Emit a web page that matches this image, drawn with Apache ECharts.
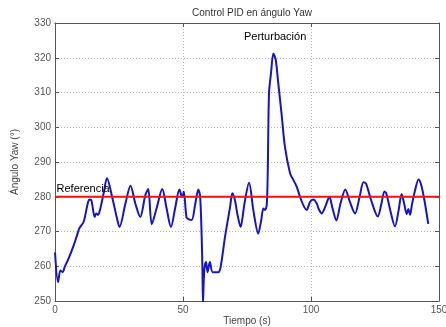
<!DOCTYPE html>
<html>
<head>
<meta charset="utf-8">
<script src="https://cdn.jsdelivr.net/npm/echarts@6/dist/echarts.min.js"></script>
<style>html,body{margin:0;padding:0;background:#fff}#c{width:446px;height:327px}</style>
</head>
<body>
<div id="c"></div>
<script>
const titleText = 'Control PID en ángulo Yaw';
const xName = 'Tiempo (s)';
const yName = 'Ángulo Yaw (°)';
const xTicks = [0, 50, 100, 150];
const yTicks = [250, 260, 270, 280, 290, 300, 310, 320, 330];
const refValue = 280;
const refRange = [0, 150];
const time = [0,1.2,2.1,3.0,3.8,5.3,7.3,8.6,9.5,11.2,12.5,13.4,14.2,15.5,16.1,16.8,17.7,19.0,20.3,22.3,24.2,25.2,27.5,29.5,31.4,33.3,35.3,36.4,37.8,39.8,41.9,43.5,45.3,47.0,48.6,49.3,49.8,50.3,51.4,52.3,53.4,54.8,56.0,56.7,57.3,57.6,57.8,58.3,59.0,59.6,60.5,61.6,63.8,64.7,66.4,68.4,69.3,70.3,71.2,72.5,74.0,75.8,77.5,79.4,80.5,81.4,82.0,82.7,83.1,83.6,84.4,85.3,86.2,87.2,88.6,89.8,91.8,93.0,94.4,95.7,97.0,98.3,99.6,100.9,102.2,103.0,104.2,105.5,107.2,108.3,109.9,111.5,113.4,115.2,117.2,119.0,120.5,121.5,123.5,126.1,127.5,128.7,129.4,131.0,132.8,134.2,135.4,136.4,137.4,138.0,138.7,139.4,140.7,142.0,143.0,144.3,145.8];
const yaw = [264,255.4,258.8,258.3,259.8,262.2,266,268.9,270.9,272.8,277.1,279.2,279,274.2,275.2,274.8,276.6,281,285.3,280,273.8,271.3,278,283.2,278,274.2,280.5,282.2,272.1,277,282.2,277,271.3,277,282.1,280.5,280,281.5,274,273.5,273.3,278,282.1,280,268.4,258.8,249.5,258.8,261.2,258.3,261.2,258.3,258.3,259.8,268.4,277.1,281,279,275.2,271.3,278,284,276,269.4,273,276.6,276.2,277.6,286.8,309.9,315.7,321.2,319.5,312.8,303.1,294.5,286.8,285,282.9,280,277.6,276.2,278.5,279.2,278.1,276.5,275.2,277,280,277,273.2,278,282.1,278.5,275.2,280,284.2,283.8,279,274.3,278,281.5,281,276,271.5,276,280.8,278,275,276.5,274.8,277.6,282,285,283.5,279,272.2];
const annRef = {text: 'Referencia', x: 0.6, y: 282.2};
const annPert = {text: 'Perturbación', x: 73.8, y: 326};

const chart = echarts.init(document.getElementById('c'));
const font = 'Liberation Sans, Arial, sans-serif';
const axisCol = '#555';
const gridLine = {show: true, lineStyle: {color: '#b8b8b8', type: [1, 2], width: 1}};
const baseX = {type: 'value', min: xTicks[0], max: xTicks[xTicks.length-1], interval: 50};
const baseY = {type: 'value', min: yTicks[0], max: yTicks[yTicks.length-1], interval: 10};
chart.setOption({
  animation: false,
  backgroundColor: '#fff',
  title: {text: titleText, left: 247, top: 3, textAlign: 'center',
    textStyle: {fontFamily: font, fontSize: 10, fontWeight: 'normal', color: '#333'}},
  grid: {left: 55, right: 7, top: 23, bottom: 26, containLabel: false, outerBoundsMode: 'none'},
  xAxis: [
    Object.assign({}, baseX, {position: 'bottom', name: xName, nameLocation: 'middle', nameGap: 15,
      nameMoveOverlap: false,
      nameTextStyle: {fontFamily: font, fontSize: 10, color: '#444'},
      axisLine: {show: true, lineStyle: {color: axisCol}},
      axisTick: {show: true, inside: true, length: 4, lineStyle: {color: axisCol}},
      axisLabel: {fontFamily: font, fontSize: 10, color: '#555', margin: 4},
      splitLine: gridLine}),
    Object.assign({}, baseX, {position: 'top',
      axisLine: {show: true, onZero: false, lineStyle: {color: axisCol}},
      axisTick: {show: true, inside: true, length: 4, lineStyle: {color: axisCol}},
      axisLabel: {show: false}, splitLine: {show: false}})
  ],
  yAxis: [
    Object.assign({}, baseY, {position: 'left', name: yName, nameLocation: 'middle', nameGap: 35,
      nameMoveOverlap: false,
      nameTextStyle: {fontFamily: font, fontSize: 10, color: '#444'},
      axisLine: {show: true, lineStyle: {color: axisCol}},
      axisTick: {show: true, inside: true, length: 4, lineStyle: {color: axisCol}},
      axisLabel: {fontFamily: font, fontSize: 10, color: '#555', margin: 4},
      splitLine: gridLine}),
    Object.assign({}, baseY, {position: 'right',
      axisLine: {show: true, onZero: false, lineStyle: {color: axisCol}},
      axisTick: {show: true, inside: true, length: 4, lineStyle: {color: axisCol}},
      axisLabel: {show: false}, splitLine: {show: false}})
  ],
  series: [
    {type: 'line', data: time.map((t, i) => [t, yaw[i]]), symbol: 'none', smooth: 0.3,
      lineStyle: {color: '#1414c8', width: 2}, clip: true,
      markPoint: {symbol: 'circle', symbolSize: 0, silent: true,
        label: {show: true, position: 'right', distance: 0, fontFamily: font, fontSize: 11, color: '#000',
          formatter: p => p.name},
        data: [{name: annRef.text, coord: [annRef.x, annRef.y]}, {name: annPert.text, coord: [annPert.x, annPert.y]}]}},
    {type: 'line', data: refRange.map(t => [t, refValue]), symbol: 'none',
      lineStyle: {color: '#ff1010', width: 2}}
  ]
});
</script>
</body>
</html>
